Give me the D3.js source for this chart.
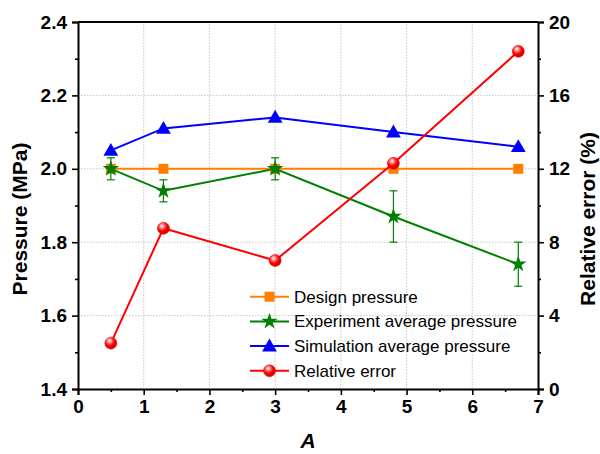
<!DOCTYPE html>
<html>
<head>
<meta charset="utf-8">
<script src="https://cdn.jsdelivr.net/npm/d3@7"></script>
<style>
  body { margin: 0; background: #fff; }
  svg { display: block; font-family: Arial, "Liberation Sans", sans-serif; }
</style>
</head>
<body>
<svg id="chart" width="600" height="454"></svg>
<script>
const aValues = [0.5, 1.3, 3, 4.8, 6.7];
const designPressure = [2.0, 2.0, 2.0, 2.0, 2.0];
const experimentPressure = [2.0, 1.94, 2.0, 1.87, 1.74];
const experimentError = [0.03, 0.03, 0.03, 0.07, 0.06];
const simulationPressure = [2.05, 2.11, 2.14, 2.10, 2.06];
const relativeError = [2.5, 8.76, 7.0, 12.3, 18.4];

const xTicks = [0, 1, 2, 3, 4, 5, 6, 7];
const leftTicks = [1.4, 1.6, 1.8, 2.0, 2.2, 2.4];
const rightTicks = [0, 4, 8, 12, 16, 20];
const legendLabels = ["Design pressure", "Experiment average pressure", "Simulation average pressure", "Relative error"];

const colors = {
  design: "#ff7f00",
  experiment: "#008000",
  simulation: "#0000ff",
  error: "#ff0000",
};

const svg = d3.select("#chart");
const margin = { left: 78, right: 62, top: 22, bottom: 65 };
const width = 600, height = 454;

const x = d3.scaleLinear().domain([0, 7]).range([margin.left, width - margin.right]);
const yL = d3.scaleLinear().domain([1.4, 2.4]).range([height - margin.bottom, margin.top]);
const yR = d3.scaleLinear().domain([0, 20]).range([height - margin.bottom, margin.top]);

const defs = svg.append("defs");
const grad = defs.append("radialGradient")
  .attr("id", "ball").attr("cx", "40%").attr("cy", "35%").attr("r", "65%")
  .attr("fx", "38%").attr("fy", "30%");
grad.append("stop").attr("offset", "0%").attr("stop-color", "#ffffff");
grad.append("stop").attr("offset", "25%").attr("stop-color", "#ff9090");
grad.append("stop").attr("offset", "60%").attr("stop-color", "#ff0000");
grad.append("stop").attr("offset", "100%").attr("stop-color", "#d00000");

// grid
const grid = svg.append("g").attr("stroke", "#c8c8c8").attr("stroke-dasharray", "1.5,1.5").attr("stroke-width", 1);
grid.selectAll("line.vx")
  .data(xTicks.slice(1, -1))
  .join("line")
  .attr("x1", (d) => x(d)).attr("x2", (d) => x(d))
  .attr("y1", yL(1.4)).attr("y2", yL(2.4));
grid.selectAll("line.hy")
  .data(leftTicks.slice(1, -1))
  .join("line")
  .attr("class", "hy")
  .attr("x1", x(0)).attr("x2", x(7))
  .attr("y1", (d) => yL(d)).attr("y2", (d) => yL(d));

// axes
const tickFont = (g) => g.selectAll("text")
  .attr("font-size", 19).attr("font-weight", "bold").attr("fill", "#000")
  .attr("font-family", "Arial, 'Liberation Sans', sans-serif");

function styleAxis(g) {
  g.select(".domain").attr("stroke", "#000").attr("stroke-width", 2);
  g.selectAll(".tick line").attr("stroke", "#000").attr("stroke-width", 1.6);
  tickFont(g);
}

const minorX = d3.range(0.5, 7, 1);
const minorL = d3.range(1.5, 2.4, 0.2);
const minorR = d3.range(2, 20, 4);

svg.append("g").attr("transform", `translate(0,${yL(1.4)})`)
  .call(d3.axisBottom(x).tickValues(xTicks).tickFormat(d3.format("d")).tickSize(6).tickPadding(5))
  .call(styleAxis);
svg.append("g").attr("transform", `translate(0,${yL(1.4)})`)
  .call(d3.axisBottom(x).tickValues(minorX).tickFormat("").tickSize(3))
  .call((g) => { g.select(".domain").remove(); g.selectAll("line").attr("stroke", "#000").attr("stroke-width", 1.6); });

svg.append("g").attr("transform", `translate(${x(0)},0)`)
  .call(d3.axisLeft(yL).tickValues(leftTicks).tickFormat(d3.format(".1f")).tickSize(6).tickPadding(5))
  .call(styleAxis);
svg.append("g").attr("transform", `translate(${x(0)},0)`)
  .call(d3.axisLeft(yL).tickValues(minorL).tickFormat("").tickSize(3))
  .call((g) => { g.select(".domain").remove(); g.selectAll("line").attr("stroke", "#000").attr("stroke-width", 1.6); });

svg.append("g").attr("transform", `translate(${x(7)},0)`)
  .call(d3.axisRight(yR).tickValues(rightTicks).tickFormat(d3.format("d")).tickSize(6).tickPadding(5))
  .call(styleAxis);
svg.append("g").attr("transform", `translate(${x(7)},0)`)
  .call(d3.axisRight(yR).tickValues(minorR).tickFormat("").tickSize(3))
  .call((g) => { g.select(".domain").remove(); g.selectAll("line").attr("stroke", "#000").attr("stroke-width", 1.6); });

// top border
svg.append("line")
  .attr("x1", x(0)).attr("x2", x(7)).attr("y1", yL(2.4)).attr("y2", yL(2.4))
  .attr("stroke", "#000").attr("stroke-width", 2);

// axis titles
svg.append("text")
  .attr("transform", "translate(27,219) rotate(-90)")
  .attr("text-anchor", "middle").attr("font-size", 21).attr("font-weight", "bold")
  .text("Pressure (MPa)");
svg.append("text")
  .attr("transform", "translate(595,219) rotate(-90)")
  .attr("text-anchor", "middle").attr("font-size", 21).attr("font-weight", "bold")
  .text("Relative error (%)");
svg.append("text")
  .attr("x", (x(0) + x(7)) / 2).attr("y", 448)
  .attr("text-anchor", "middle").attr("font-size", 21).attr("font-weight", "bold").attr("font-style", "italic")
  .text("A");

// markers
const starPath = d3.symbol().type(d3.symbolStar).size(85)();
const triPath = d3.symbol().type(d3.symbolTriangle).size(95)();

function drawMarker(g, type, cx, cy) {
  if (type === "square") {
    g.append("rect").attr("x", cx - 5).attr("y", cy - 5).attr("width", 10).attr("height", 10)
      .attr("fill", colors.design);
  } else if (type === "star") {
    g.append("path").attr("d", starPath).attr("transform", `translate(${cx},${cy})`).attr("fill", colors.experiment);
  } else if (type === "triangle") {
    g.append("path").attr("d", triPath).attr("transform", `translate(${cx},${cy + 1})`).attr("fill", colors.simulation);
  } else {
    g.append("circle").attr("cx", cx).attr("cy", cy).attr("r", 6).attr("fill", "url(#ball)")
      .attr("stroke", "#e00000").attr("stroke-width", 0.5);
  }
}

const line = d3.line();

// design
const gDesign = svg.append("g");
gDesign.append("path")
  .attr("d", line(aValues.map((a, i) => [x(a), yL(designPressure[i])])))
  .attr("fill", "none").attr("stroke", colors.design).attr("stroke-width", 2);
aValues.forEach((a, i) => drawMarker(gDesign, "square", x(a), yL(designPressure[i])));

// experiment with error bars
const gExp = svg.append("g");
gExp.append("path")
  .attr("d", line(aValues.map((a, i) => [x(a), yL(experimentPressure[i])])))
  .attr("fill", "none").attr("stroke", colors.experiment).attr("stroke-width", 2);
aValues.forEach((a, i) => {
  const hi = yL(experimentPressure[i] + experimentError[i]);
  const lo = yL(experimentPressure[i] - experimentError[i]);
  const cx = x(a);
  const eb = gExp.append("g").attr("stroke", colors.experiment).attr("stroke-width", 1.2);
  eb.append("line").attr("x1", cx).attr("x2", cx).attr("y1", hi).attr("y2", lo);
  eb.append("line").attr("x1", cx - 4).attr("x2", cx + 4).attr("y1", hi).attr("y2", hi);
  eb.append("line").attr("x1", cx - 4).attr("x2", cx + 4).attr("y1", lo).attr("y2", lo);
  drawMarker(gExp, "star", cx, yL(experimentPressure[i]));
});

// simulation
const gSim = svg.append("g");
gSim.append("path")
  .attr("d", line(aValues.map((a, i) => [x(a), yL(simulationPressure[i])])))
  .attr("fill", "none").attr("stroke", colors.simulation).attr("stroke-width", 2);
aValues.forEach((a, i) => drawMarker(gSim, "triangle", x(a), yL(simulationPressure[i])));

// relative error
const gErr = svg.append("g");
gErr.append("path")
  .attr("d", line(aValues.map((a, i) => [x(a), yR(relativeError[i])])))
  .attr("fill", "none").attr("stroke", colors.error).attr("stroke-width", 2);
aValues.forEach((a, i) => drawMarker(gErr, "circle", x(a), yR(relativeError[i])));

// legend
const legendTypes = ["square", "star", "triangle", "circle"];
const legendColors = [colors.design, colors.experiment, colors.simulation, colors.error];
const legend = svg.append("g");
legendLabels.forEach((label, i) => {
  const ly = 296.7 + i * 24.7;
  legend.append("line").attr("x1", 250).attr("x2", 289).attr("y1", ly).attr("y2", ly)
    .attr("stroke", legendColors[i]).attr("stroke-width", 2);
  drawMarker(legend, legendTypes[i], 269.5, ly);
  legend.append("text").attr("x", 294).attr("y", ly).attr("dy", "0.35em")
    .attr("font-size", 17).attr("fill", "#000").text(label);
});
</script>
</body>
</html>
